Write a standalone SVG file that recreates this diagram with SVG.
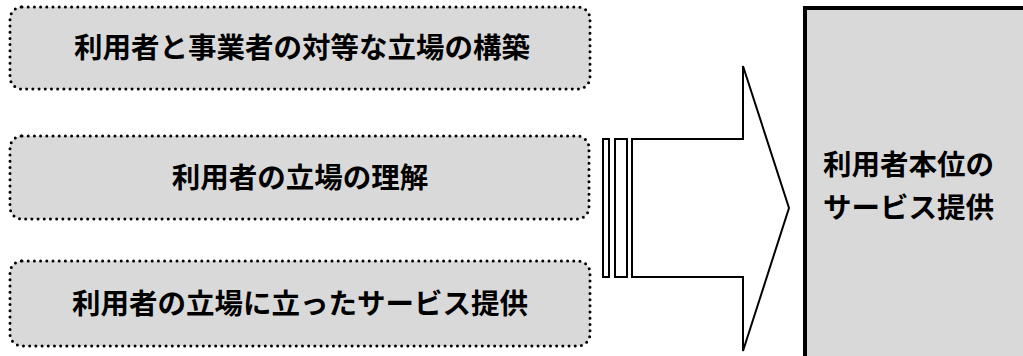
<svg xmlns="http://www.w3.org/2000/svg" width="1023" height="356" viewBox="0 0 1023 356">
<style>
.box{fill:#d9d9d9;stroke:#000;stroke-width:3;stroke-dasharray:0 6.2;stroke-linecap:round}
.t{font-family:"Noto Sans CJK JP","Noto Sans CJK SC",sans-serif;font-weight:bold;font-size:28.5px;fill:#000}
.ln{fill:#fff;stroke:#000;stroke-width:2}
</style>
<rect width="1023" height="356" fill="#fff"/>
<g id="node1">
<rect class="box" x="10" y="7" width="580" height="82" rx="12"/>
<text class="t" x="302" y="58" text-anchor="middle">利用者と事業者の対等な立場の構築</text>
</g>
<g id="node2">
<rect class="box" x="10" y="136" width="579" height="83" rx="12"/>
<text class="t" x="300" y="188" text-anchor="middle">利用者の立場の理解</text>
</g>
<g id="node3">
<rect class="box" x="10" y="261" width="580" height="85" rx="12"/>
<text class="t" x="300" y="314" text-anchor="middle">利用者の立場に立ったサービス提供</text>
</g>
<g id="connectors">
<rect class="ln" x="603" y="139" width="6" height="138"/>
<rect class="ln" x="615" y="139" width="12" height="138"/>
<path class="ln" d="M632,139 H743 V66 L789,208 L743,351 V277 H632 Z" stroke-linejoin="miter"/>
</g>
<g id="node4">
<rect x="805" y="8" width="240" height="360" fill="#d9d9d9" stroke="#000" stroke-width="4"/>
<text class="t" x="823" y="175">利用者本位の</text>
<text class="t" x="823" y="218">サービス提供</text>
</g>
</svg>
